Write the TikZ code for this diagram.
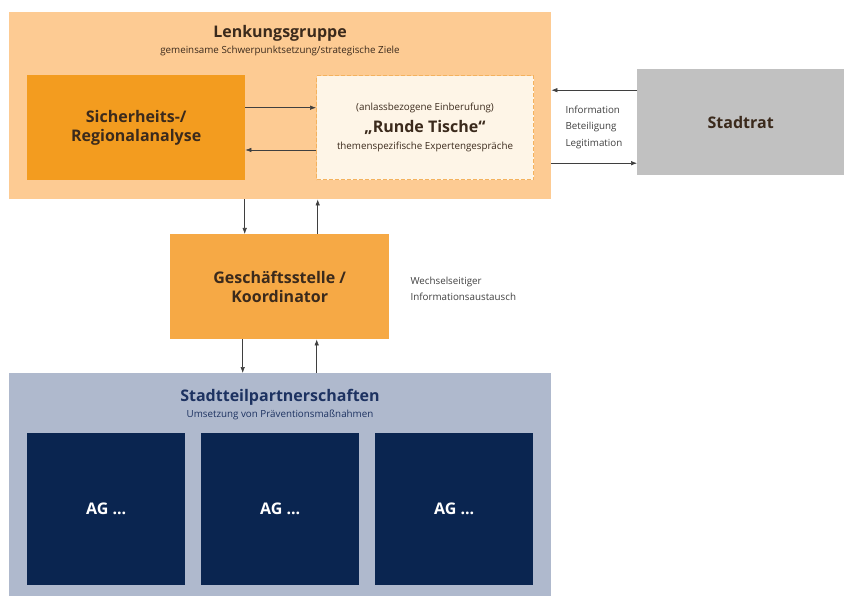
\documentclass[tikz,border=0pt]{standalone}
\usepackage{fontspec}
\setmainfont{Open Sans}
\usetikzlibrary{arrows.meta,calc}

\tikzset{
    box/.style={rectangle, inner sep=0pt, anchor=north west, align=center},
    flow/.style={-{Latex[length=6pt,width=4.5pt]}, draw=arrowColour, line width=0.6pt},
    bigtext/.style={font=\fontsize{16}{21}\selectfont\bfseries},
    smalltext/.style={font=\fontsize{9.8}{16.5}\selectfont},
}

\begin{document}
\begin{tikzpicture}[x=1pt, y=-1pt]
    % Define colours
    \definecolor{lenkColour}{HTML}{FDCB93}
    \definecolor{sichColour}{HTML}{F39C1F}
    \definecolor{rundeColour}{HTML}{FEF5E7}
    \definecolor{rundeBorder}{HTML}{F4B25E}
    \definecolor{geschColour}{HTML}{F6A945}
    \definecolor{stadtColour}{HTML}{C1C1C1}
    \definecolor{teilColour}{HTML}{AFB9CD}
    \definecolor{agColour}{HTML}{0A2550}
    \definecolor{brownText}{HTML}{3B2A1C}
    \definecolor{navyText}{HTML}{1D3261}
    \definecolor{greyText}{HTML}{404040}
    \definecolor{arrowColour}{HTML}{3F3F3F}

    % Fix picture size
    \useasboundingbox (0,0) rectangle (844,596);

    % Draw Lenkungsgruppe
    \node[box, fill=lenkColour, minimum width=542pt, minimum height=187pt] (lenk) at (9,12) {};
    \node[bigtext, text=brownText, anchor=base] (lenkTitle) at (280,38) {Lenkungsgruppe};
    \node[smalltext, text=brownText, anchor=base] (lenkSub) at (280,54) {gemeinsame Schwerpunktsetzung/strategische Ziele};

    % Draw the two inner boxes
    \node[box, fill=sichColour, minimum width=218pt, minimum height=105pt, bigtext, text=brownText] (sich) at (27,75) {Sicherheits-/\\[-2pt]Regionalanalyse};
    \node[box, fill=rundeColour, draw=rundeBorder, line width=1pt, dash pattern=on 4pt off 2pt,
          minimum width=217pt, minimum height=104pt] (runde) at (316,75.5) {};
    \node[smalltext, text=brownText] (rundeTop) at ($(runde.center)+(0,-20)$) {(anlassbezogene Einberufung)};
    \node[bigtext, text=brownText] (rundeTitle) at ($(runde.center)+(0,-1)$) {„Runde Tische“};
    \node[smalltext, text=brownText] (rundeSub) at ($(runde.center)+(0,19)$) {themenspezifische Expertengespräche};

    % Arrows between Sicherheitsanalyse and Runde Tische
    \draw[flow] ([yshift=20pt]sich.east) -- ([yshift=20pt]sich.east -| runde.west);
    \draw[flow] ([yshift=-22pt]runde.west) -- ([yshift=-22pt]runde.west -| sich.east);

    % Draw Stadtrat
    \node[box, fill=stadtColour, minimum width=207pt, minimum height=106pt, bigtext, text=brownText] (stadt) at (637,69) {Stadtrat};
    \draw[flow] ([yshift=32pt]stadt.west) -- ([yshift=32pt]stadt.west -| lenk.east);
    \draw[flow] ([yshift=-41pt]stadt.west -| lenk.east) -- ([yshift=-41pt]stadt.west);
    \node[smalltext, text=greyText, anchor=west, align=left] (stadtInfo) at (562,127)
        {Information\\Beteiligung\\Legitimation};

    % Draw Geschaeftsstelle
    \node[box, fill=geschColour, minimum width=219pt, minimum height=105pt, bigtext, text=brownText] (gesch) at (170,234) {Geschäftsstelle /\\[-2pt]Koordinator};
    \draw[flow] ([xshift=-35pt]gesch.north |- lenk.south) -- ([xshift=-35pt]gesch.north);
    \draw[flow] ([xshift=38pt]gesch.north) -- ([xshift=38pt]gesch.north |- lenk.south);
    \node[smalltext, text=greyText, anchor=west, align=left] (austausch) at (407,289)
        {Wechselseitiger\\Informationsaustausch};

    % Draw Stadtteilpartnerschaften
    \node[box, fill=teilColour, minimum width=542pt, minimum height=224pt] (teil) at (9,373) {};
    \node[bigtext, text=navyText, anchor=base] (teilTitle) at (280,401) {Stadtteilpartnerschaften};
    \node[smalltext, text=navyText, anchor=base] (teilSub) at (280,417) {Umsetzung von Präventionsmaßnahmen};
    \draw[flow] ([xshift=-37pt]gesch.south) -- ([xshift=-37pt]gesch.south |- teil.north);
    \draw[flow] ([xshift=37pt]gesch.south |- teil.north) -- ([xshift=37pt]gesch.south);

    % Draw the working groups
    \foreach \x [count=\i] in {27,201,375}
        \node[box, fill=agColour, minimum width=158pt, minimum height=152pt, bigtext, text=white] (ag\i) at (\x,433) {AG ...};

\end{tikzpicture}
\end{document}
